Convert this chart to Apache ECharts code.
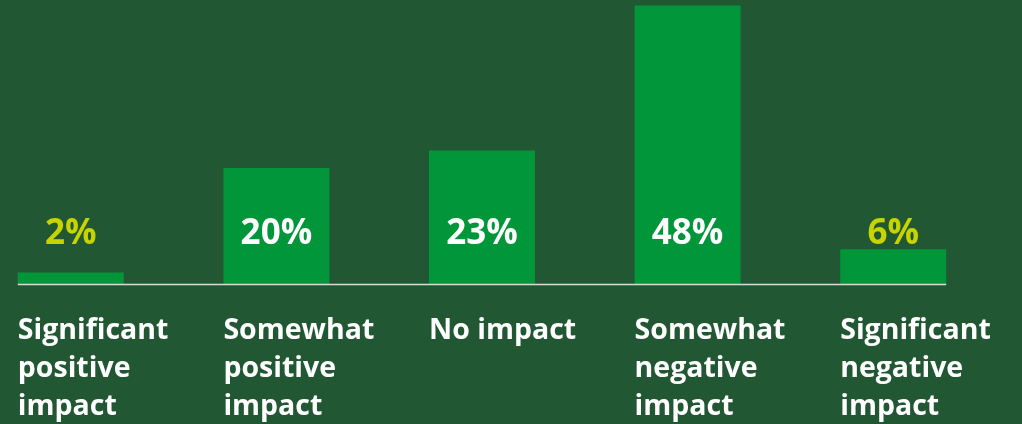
<!DOCTYPE html>
<html><head><meta charset="utf-8">
<script src="https://cdn.jsdelivr.net/npm/echarts@6/dist/echarts.min.js"></script>
<style>html,body{margin:0;padding:0;background:#225734;}#c{width:1022px;height:424px;}</style>
</head><body><div id="c"></div>
<script>
const categories = ["Significant\npositive\nimpact", "Somewhat\npositive\nimpact", "No impact", "Somewhat\nnegative\nimpact", "Significant\nnegative\nimpact"];
const values = [2, 20, 23, 48, 6];
const valueLabels = ["2%", "20%", "23%", "48%", "6%"];
const labelColors = ["#c8d400", "#ffffff", "#ffffff", "#ffffff", "#c8d400"];

const chart = echarts.init(document.getElementById('c'));
const BW = 106;
chart.setOption({
  backgroundColor: '#225734',
  animation: false,
  grid: {left: -32, right: 26, top: -6, bottom: 140, containLabel: false, outerBoundsMode: 'none'},
  xAxis: {
    type: 'category', data: categories,
    axisLine: {show: false}, axisTick: {show: false},
    axisLabel: {
      align: 'left', verticalAlign: 'top', margin: 28,
      padding: [0, 0, 0, -BW / 2],
      color: '#ffffff', fontFamily: 'Open Sans', fontWeight: 'bold',
      fontSize: 28.5, lineHeight: 38
    }
  },
  yAxis: {type: 'value', min: 0, max: 50, show: false, splitLine: {show: false}},
  series: [{
    type: 'bar', barWidth: BW,
    itemStyle: {color: '#009639'},
    data: values.map((v, i) => ({
      value: v,
      label: {color: labelColors[i]}
    })),
    label: {
      show: true, position: 'insideBottom', distance: 32,
      formatter: p => valueLabels[p.dataIndex],
      fontFamily: 'Open Sans', fontWeight: 'bold', fontSize: 35
    }
  }]
});
const p0 = chart.convertToPixel({xAxisIndex: 0, yAxisIndex: 0}, [0, 0]);
const p4 = chart.convertToPixel({xAxisIndex: 0, yAxisIndex: 0}, [4, 0]);
chart.setOption({
  graphic: [{
    type: 'line', silent: true, z: 10,
    shape: {x1: p0[0] - BW / 2, y1: p0[1] + 0.5, x2: p4[0] + BW / 2, y2: p4[1] + 0.5},
    style: {stroke: '#d8dcd8', lineWidth: 1.5}
  }]
});
</script></body></html>
